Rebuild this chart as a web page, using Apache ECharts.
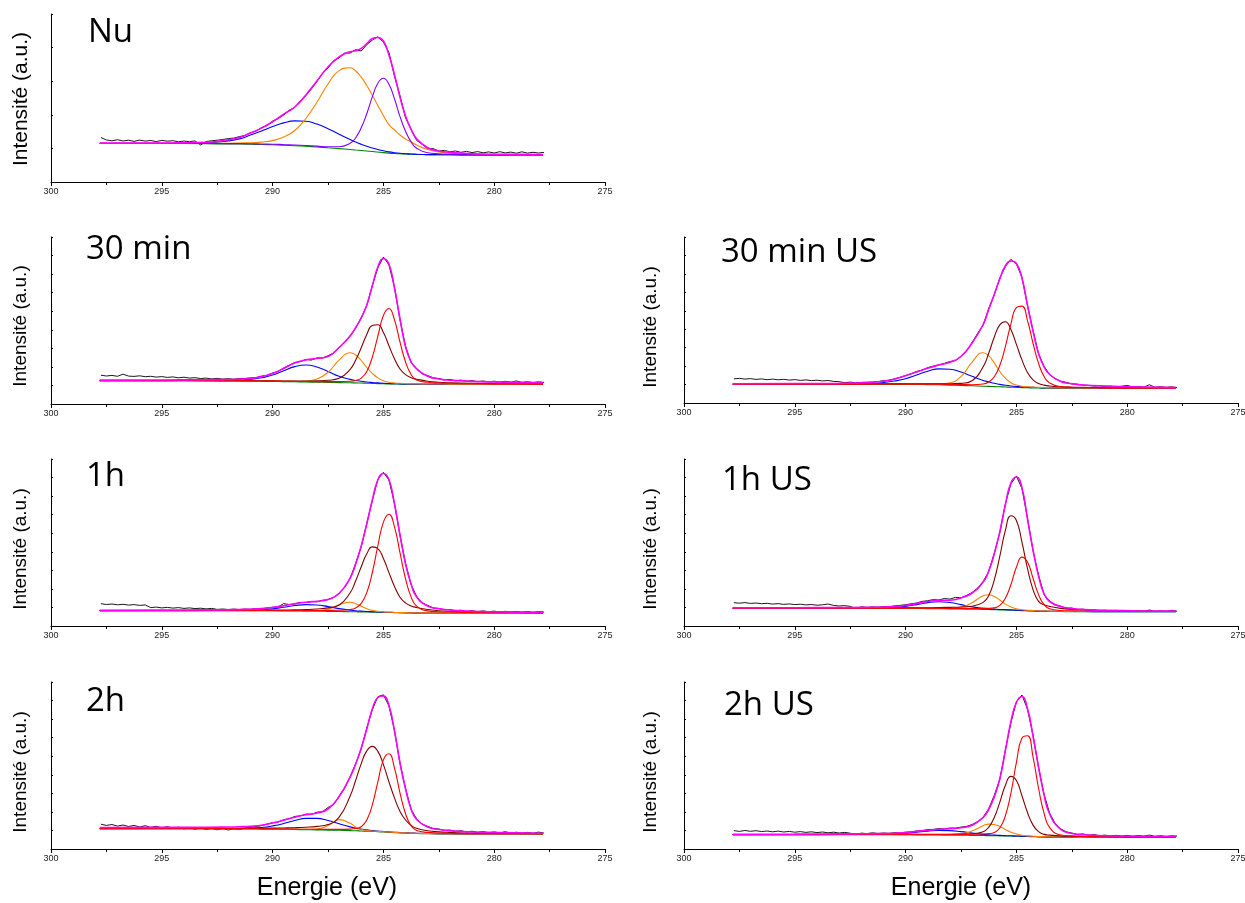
<!DOCTYPE html>
<html><head><meta charset="utf-8">
<script src="https://cdn.jsdelivr.net/npm/echarts@6/dist/echarts.min.js"></script>
<style>html,body{margin:0;padding:0;background:#fff}#c{width:1245px;height:903px}</style>
</head><body><div id="c"></div>
<script>
// ---------- shared energy grids (eV) ----------
const fitEnergy = [297.8, 295, 293, 292, 291.5, 291, 290.5, 290, 289.5, 289,
  288.5, 288, 287.5, 287, 286.5, 286.25, 286, 285.75, 285.5, 285.25,
  285, 284.75, 284.5, 284.25, 284, 283.75, 283.5, 283, 282.5, 282,
  281, 279, 277.8];
const rawEnergy = [297.75, 297.5, 297.25, 297, 296.75, 296.5, 296.25, 296, 295.75, 295.5,
  295.25, 295, 294.75, 294.5, 294.25, 294, 293.75, 293.5, 293.25, 293,
  292.75, 292.5, 292.25, 292, 291.75, 291.5, 291.25, 291, 290.75, 290.5,
  290.25, 290, 289.75, 289.5, 289.25, 289, 288.75, 288.5, 288.25, 288,
  287.75, 287.5, 287.25, 287, 286.75, 286.5, 286.25, 286, 285.75, 285.5,
  285.25, 285, 284.75, 284.5, 284.25, 284, 283.75, 283.5, 283.25, 283,
  282.75, 282.5, 282.25, 282, 281.75, 281.5, 281.25, 281, 280.75, 280.5,
  280.25, 280, 279.75, 279.5, 279.25, 279, 278.75, 278.5, 278.25, 278,
  277.75];
const xTicks = [300, 295, 290, 285, 280, 275];
const panelTitles = ['Nu', '30 min', '30 min US', '1h', '1h US', '2h', '2h US'];

// ---------- Nu ----------
const nuRaw = [44.5, 42.0, 41.2, 42.3, 41.0, 41.8, 40.6, 41.9, 40.9, 41.5,
  40.4, 41.6, 40.8, 41.3, 40.2, 41.0, 40.3, 41.1, 37.0, 40.5,
  41.2, 41.8, 42.5, 43.4, 43.9, 45.4, 46.5, 49.2, 50.8, 54.5,
  56.4, 60.9, 63.4, 67.0, 71.8, 74.5, 81.2, 86.3, 93.0, 100.4,
  108.6, 114.0, 121.3, 124.2, 128.9, 129.0, 132.3, 131.0, 137.4, 141.9,
  145.2, 140.0, 129.5, 105.8, 86.0, 64.1, 52.9, 41.6, 37.8, 33.0,
  33.4, 30.9, 31.6, 30.2, 31.0, 29.7, 30.6, 29.4, 30.4, 29.2,
  30.1, 29.0, 30.3, 29.1, 29.9, 28.8, 30.2, 28.9, 29.7, 29.0,
  29.6];
const nuBaseline = [38.5, 38.5, 38.3, 38.0, 38.0, 37.8, 37.5, 37.2, 36.8, 36.3,
  35.7, 35.0, 34.2, 33.4, 32.5, 32.0, 31.5, 31.0, 30.5, 30.0,
  29.4, 28.9, 28.5, 28.2, 28.0, 27.8, 27.6, 27.4, 27.3, 27.2,
  27.1, 27.0, 27.0];
const nuBlue = [38.5, 38.5, 39.0, 41.1, 43.1, 46.9, 51.0, 55.4, 59.1, 61.1,
  60.7, 57.9, 53.3, 47.8, 42.4, 39.9, 37.7, 35.7, 34.0, 32.5,
  31.2, 30.1, 29.3, 28.7, 28.3, 28.0, 27.7, 27.4, 27.3, 27.2,
  27.1, 27.0, 27.0];
const nuOrange = [38.7, 38.8, 38.8, 38.7, 39.0, 39.3, 39.9, 41.4, 44.9, 51.5,
  63.5, 79.7, 98.0, 111.4, 114.2, 111.0, 104.8, 96.5, 86.8, 76.6,
  66.5, 57.3, 52.0, 47.0, 43.0, 40.0, 37.0, 32.5, 30.0, 29.0,
  27.9, 27.4, 27.3];
const nuPurple = [38.7, 38.7, 38.6, 38.4, 38.4, 38.3, 38.0, 37.8, 37.4, 37.0,
  36.5, 35.9, 35.2, 35.2, 38.7, 44.3, 54.2, 68.2, 85.1, 98.8,
  103.7, 97.7, 83.1, 65.4, 50.7, 40.1, 33.8, 29.2, 28.3, 27.9,
  27.5, 27.2, 27.2];
const nuEnvelope = [38.9, 39.0, 39.8, 42.2, 44.5, 48.9, 53.9, 60.2, 67.8, 75.0,
  87.0, 101.0, 115.0, 125.0, 130.3, 131.2, 133.7, 138.4, 143.5, 144.5,
  141.0, 127.0, 107.4, 84.7, 66.0, 52.5, 43.3, 34.3, 31.0, 29.7,
  28.3, 27.6, 27.5];

// ---------- 30 min ----------
const m30Raw = [28.8, 28.0, 28.6, 27.7, 29.8, 27.9, 27.6, 28.2, 27.3, 27.7,
  26.9, 27.4, 26.6, 27.1, 26.2, 26.8, 25.9, 26.3, 25.5, 25.9,
  25.1, 25.6, 24.9, 25.3, 24.8, 25.5, 25.4, 26.1, 26.4, 27.9,
  28.6, 31.0, 32.4, 36.0, 38.7, 41.6, 42.3, 44.6, 43.9, 46.1,
  46.0, 48.2, 51.0, 56.0, 61.7, 68.4, 75.9, 86.6, 98.4, 118.6,
  136.2, 147.0, 139.2, 116.9, 84.1, 57.8, 41.3, 35.8, 30.2, 28.4,
  26.2, 25.5, 24.1, 24.6, 23.2, 23.9, 22.7, 23.4, 22.3, 23.0,
  22.1, 22.8, 21.9, 22.7, 21.8, 23.1, 21.6, 22.3, 21.5, 22.2,
  21.6];
const m30Baseline = [23.3, 23.3, 23.2, 23.1, 23.0, 22.9, 22.8, 22.6, 22.4, 22.2,
  22.0, 21.8, 21.6, 21.4, 21.2, 21.1, 21.0, 20.8, 20.6, 20.4,
  20.2, 20.1, 20.0, 19.9, 19.85, 19.8, 19.8, 19.75, 19.7, 19.7,
  19.7, 19.7, 19.7];
const m30Blue = [23.4, 23.4, 23.6, 23.6, 23.9, 24.6, 26.2, 28.9, 33.3, 37.4,
  39.0, 37.0, 32.5, 27.7, 24.6, 23.5, 22.7, 22.0, 21.5, 21.1,
  20.7, 20.5, 20.3, 20.2, 20.1, 20.0, 20.0, 19.9, 19.9, 19.8,
  19.8, 19.7, 19.7];
const m30Orange = [23.5, 23.5, 23.4, 23.3, 23.2, 23.1, 23.0, 22.9, 22.8, 22.8,
  23.0, 24.9, 31.6, 43.9, 51.2, 49.0, 43.5, 36.5, 30.6, 26.1,
  23.3, 21.8, 21.0, 20.7, 20.5, 20.3, 20.2, 20.1, 20.0, 19.9,
  19.9, 19.8, 19.8];
const m30Brown = [23.5, 23.5, 23.4, 23.4, 23.3, 23.3, 23.2, 23.1, 23.0, 22.9,
  22.9, 23.1, 23.7, 25.7, 34.7, 44.0, 56.3, 69.6, 78.5, 79.2,
  71.4, 58.3, 45.2, 35.0, 29.4, 26.3, 24.8, 22.8, 21.7, 21.2,
  20.7, 20.2, 20.1];
const m30Red = [23.4, 23.4, 23.4, 23.3, 23.2, 23.1, 23.0, 22.9, 22.75, 22.6,
  22.5, 22.4, 22.4, 22.4, 22.7, 23.5, 25.9, 32.6, 46.9, 67.9,
  88.5, 95.5, 84.1, 61.8, 42.0, 29.5, 24.0, 21.75, 21.0, 20.7,
  20.3, 20.0, 19.9];
const m30Envelope = [23.9, 24.0, 24.3, 24.5, 24.9, 25.6, 27.2, 30.5, 35.5, 41.0,
  44.0, 45.5, 47.5, 56.5, 68.0, 76.5, 86.0, 99.0, 118.0, 137.0,
  145.5, 140.0, 116.0, 85.0, 57.0, 42.0, 35.0, 27.8, 25.0, 23.8,
  22.6, 21.6, 21.3];

// ---------- 30 min US ----------
const m30usRaw = [24.2, 24.6, 23.9, 24.4, 23.6, 24.1, 23.3, 23.9, 23.2, 23.7,
  22.9, 23.4, 22.6, 23.1, 22.4, 22.8, 22.1, 22.5, 21.6, 21.3,
  20.3, 20.9, 20.2, 20.6, 20.7, 21.0, 21.4, 22.3, 22.8, 24.2,
  25.6, 27.5, 29.2, 31.6, 32.9, 35.4, 36.8, 38.2, 39.6, 41.5,
  42.4, 46.9, 52.2, 60.5, 69.6, 78.0, 94.4, 108.1, 124.9, 136.4,
  143.7, 139.0, 125.8, 97.4, 72.6, 49.0, 36.7, 28.2, 24.3, 21.9,
  20.6, 19.1, 18.8, 17.9, 17.6, 16.9, 17.3, 16.5, 16.9, 16.2,
  16.7, 17.6, 16.0, 16.6, 15.8, 18.3, 15.7, 16.4, 15.6, 16.2,
  15.5];
const m30usBaseline = [18.7, 18.7, 18.7, 18.7, 18.7, 18.7, 18.65, 18.6, 18.5, 18.4,
  18.2, 17.9, 17.6, 17.2, 16.8, 16.6, 16.4, 16.2, 16.0, 15.8,
  15.6, 15.4, 15.2, 15.05, 14.95, 14.85, 14.8, 14.7, 14.7, 14.7,
  14.7, 14.7, 14.7];
const m30usBlue = [18.9, 19.0, 19.1, 19.3, 19.6, 20.4, 21.95, 24.3, 28.0, 31.8,
  34.1, 33.8, 31.0, 26.7, 22.5, 21.1, 19.7, 18.6, 17.7, 17.0,
  16.5, 16.2, 15.8, 15.65, 15.45, 15.35, 15.2, 15.1, 15.0, 15.0,
  14.9, 14.8, 14.8];
const m30usOrange = [18.85, 18.9, 18.95, 19.0, 19.0, 19.0, 19.0, 19.0, 19.0, 19.1,
  19.2, 20.2, 26.4, 40.9, 50.3, 47.3, 40.1, 31.5, 24.8, 20.3,
  17.9, 16.7, 16.2, 15.85, 15.65, 15.45, 15.3, 15.1, 15.05, 15.0,
  14.95, 14.9, 14.9];
const m30usBrown = [18.85, 18.9, 19.0, 19.05, 19.1, 19.15, 19.15, 19.2, 19.2, 19.2,
  19.3, 19.3, 19.6, 22.3, 36.3, 49.7, 65.8, 78.1, 81.3, 73.5,
  58.6, 43.1, 30.5, 23.15, 19.55, 17.85, 17.0, 16.2, 15.8, 15.6,
  15.3, 15.0, 14.95];
const m30usRed = [18.8, 18.85, 18.9, 18.9, 18.95, 18.95, 18.95, 18.9, 18.85, 18.8,
  18.7, 18.5, 18.4, 18.3, 19.0, 21.1, 26.2, 37.5, 56.2, 78.8,
  95.4, 96.9, 82.4, 59.75, 39.55, 26.45, 20.0, 16.4, 15.7, 15.4,
  15.15, 14.95, 14.9];
const m30usEnvelope = [19.3, 19.5, 19.6, 20.3, 20.8, 21.8, 23.8, 27.2, 31.0, 34.8,
  38.0, 40.8, 46.5, 60.0, 78.5, 93.5, 108.5, 124.0, 137.0, 142.0,
  139.5, 125.0, 98.0, 72.0, 49.5, 36.0, 28.5, 21.5, 19.3, 18.0,
  17.0, 15.9, 15.4];

// ---------- 1h ----------
const h1Raw = [22.3, 21.5, 22.0, 21.2, 21.7, 20.9, 21.4, 20.6, 21.1, 18.4,
  18.9, 18.1, 18.6, 17.9, 18.4, 17.6, 18.1, 17.4, 17.8, 17.1,
  17.6, 16.6, 17.0, 16.5, 16.9, 16.4, 16.9, 16.7, 17.4, 17.1,
  18.0, 18.5, 19.1, 22.4, 21.4, 22.0, 23.6, 23.5, 24.6, 24.2,
  25.8, 26.3, 28.4, 32.9, 38.6, 47.6, 62.8, 79.4, 102.6, 125.4,
  146.8, 153.7, 146.0, 122.7, 90.4, 62.6, 41.3, 29.6, 23.1, 20.6,
  18.0, 17.6, 16.3, 16.5, 15.2, 15.8, 14.7, 15.3, 14.4, 15.1,
  14.3, 14.9, 14.0, 14.7, 13.9, 14.6, 13.8, 14.5, 13.7, 14.4,
  13.9];
const h1Baseline = [15.3, 15.3, 15.3, 15.3, 15.3, 15.3, 15.25, 15.2, 15.1, 15.0,
  14.9, 14.75, 14.6, 14.45, 14.3, 14.2, 14.1, 14.0, 13.9, 13.75,
  13.6, 13.5, 13.35, 13.25, 13.15, 13.1, 13.05, 13.0, 13.0, 13.0,
  13.0, 13.0, 13.0];
const h1Blue = [15.4, 15.4, 15.45, 15.5, 15.6, 15.8, 16.25, 17.2, 18.8, 20.5,
  21.4, 21.0, 19.4, 17.35, 15.9, 15.3, 14.9, 14.5, 14.3, 14.05,
  13.85, 13.7, 13.5, 13.4, 13.3, 13.2, 13.15, 13.1, 13.1, 13.05,
  13.05, 13.0, 13.0];
const h1Orange = [15.4, 15.4, 15.4, 15.4, 15.4, 15.4, 15.35, 15.35, 15.25, 15.2,
  15.2, 15.3, 16.9, 21.15, 23.7, 22.3, 19.8, 17.3, 15.6, 14.6,
  14.1, 13.85, 13.65, 13.5, 13.35, 13.3, 13.2, 13.15, 13.1, 13.1,
  13.1, 13.05, 13.05];
const h1Brown = [15.45, 15.5, 15.6, 15.7, 15.75, 15.8, 15.85, 15.9, 16.0, 16.1,
  16.4, 16.95, 18.1, 20.95, 33.2, 45.2, 59.3, 72.2, 79.1, 77.35,
  67.6, 53.4, 39.55, 28.75, 23.15, 20.1, 18.55, 16.5, 15.3, 14.7,
  14.0, 13.5, 13.4];
const h1Red = [15.4, 15.45, 15.5, 15.55, 15.6, 15.6, 15.6, 15.6, 15.55, 15.55,
  15.55, 15.55, 15.6, 15.75, 16.5, 18.1, 22.6, 33.4, 53.5, 80.25,
  103.9, 111.8, 99.05, 73.05, 47.15, 29.1, 19.95, 15.1, 14.3, 14.0,
  13.6, 13.35, 13.3];
const h1Envelope = [15.8, 15.9, 16.1, 16.3, 16.5, 16.8, 17.4, 18.6, 20.3, 22.3,
  23.8, 24.6, 26.5, 32.5, 48.0, 62.0, 80.0, 102.0, 126.0, 146.0,
  152.5, 146.5, 122.0, 91.0, 62.0, 42.0, 29.0, 20.0, 17.2, 16.0,
  14.8, 13.9, 13.7];

// ---------- 1h US ----------
const h1usRaw = [23.3, 22.8, 23.4, 22.6, 23.0, 22.3, 22.7, 21.9, 22.4, 21.6,
  22.1, 21.4, 21.8, 21.1, 21.5, 20.8, 21.2, 22.0, 20.6, 20.0,
  20.4, 19.6, 17.4, 19.2, 18.6, 19.1, 18.8, 19.4, 19.3, 20.1,
  20.6, 21.3, 22.2, 23.0, 24.6, 25.3, 26.4, 26.0, 27.5, 26.9,
  28.6, 28.2, 30.6, 33.4, 37.9, 44.6, 54.3, 72.8, 93.2, 121.9,
  142.2, 149.8, 137.6, 107.9, 75.3, 50.8, 31.4, 25.1, 20.8, 19.9,
  17.6, 18.0, 16.3, 16.9, 15.6, 16.2, 15.1, 15.8, 14.9, 15.7,
  14.8, 15.5, 14.7, 15.4, 14.6, 16.0, 14.5, 15.2, 14.5, 15.7,
  14.8];
const h1usBaseline = [17.7, 17.7, 17.7, 17.7, 17.7, 17.7, 17.65, 17.6, 17.5, 17.4,
  17.3, 17.15, 17.0, 16.8, 16.6, 16.45, 16.3, 16.15, 16.0, 15.8,
  15.6, 15.4, 15.2, 15.0, 14.85, 14.7, 14.6, 14.45, 14.4, 14.35,
  14.3, 14.3, 14.3];
const h1usBlue = [17.8, 17.8, 17.85, 17.95, 18.0, 18.2, 18.65, 19.6, 21.4, 23.4,
  24.3, 23.45, 21.4, 19.1, 17.8, 17.25, 16.9, 16.55, 16.35, 16.1,
  15.85, 15.65, 15.4, 15.2, 15.05, 14.85, 14.75, 14.6, 14.5, 14.45,
  14.4, 14.35, 14.35];
const h1usOrange = [17.85, 17.85, 17.9, 17.9, 17.9, 17.9, 17.85, 17.8, 17.75, 17.7,
  17.7, 17.75, 18.8, 23.3, 30.2, 31.25, 29.5, 25.95, 21.9, 19.1,
  17.2, 16.2, 15.8, 15.45, 15.25, 15.05, 14.9, 14.7, 14.6, 14.55,
  14.5, 14.45, 14.45];
const h1usBrown = [17.85, 17.9, 18.0, 18.05, 18.1, 18.15, 18.15, 18.2, 18.25, 18.3,
  18.4, 18.65, 19.0, 19.8, 23.6, 30.25, 45.9, 69.55, 95.3, 110.2,
  105.5, 83.9, 57.5, 36.4, 24.65, 21.2, 19.6, 17.65, 16.6, 15.95,
  15.3, 14.8, 14.7];
const h1usRed = [17.8, 17.8, 17.85, 17.9, 17.9, 17.9, 17.85, 17.9, 17.8, 17.75,
  17.7, 17.6, 17.55, 17.55, 17.6, 17.65, 18.1, 20.55, 27.7, 41.3,
  58.7, 68.9, 63.9, 47.7, 31.35, 21.3, 17.2, 15.55, 15.2, 14.95,
  14.7, 14.55, 14.5];
const h1usEnvelope = [18.2, 18.3, 18.45, 18.6, 18.75, 19.0, 19.5, 20.5, 22.4, 24.5,
  25.6, 25.8, 28.0, 33.0, 44.0, 55.0, 72.0, 94.0, 121.0, 143.0,
  149.0, 138.4, 107.0, 76.0, 50.0, 32.0, 24.5, 19.5, 17.5, 16.5,
  15.6, 15.0, 14.9];

// ---------- 2h ----------
const h2Raw = [24.8, 23.6, 24.5, 22.9, 24.0, 22.5, 23.6, 22.0, 23.3, 21.6,
  22.7, 21.2, 22.4, 20.6, 21.9, 20.1, 21.4, 19.7, 21.0, 19.5,
  20.6, 19.2, 20.4, 19.0, 20.2, 19.4, 21.0, 21.6, 22.5, 23.4,
  24.9, 26.3, 27.0, 29.3, 30.2, 32.6, 33.1, 34.9, 34.6, 36.8,
  37.3, 41.5, 44.2, 52.7, 60.9, 72.6, 85.2, 100.3, 120.8, 139.4,
  152.3, 154.2, 143.0, 118.7, 85.4, 60.6, 39.5, 30.1, 24.8, 22.6,
  20.5, 20.0, 18.6, 19.0, 17.6, 18.3, 17.0, 17.8, 16.6, 17.4,
  16.3, 17.1, 16.1, 17.3, 15.9, 16.8, 15.8, 16.6, 15.7, 16.9,
  15.9];
const h2Baseline = [20.3, 20.3, 20.2, 20.1, 20.05, 20.0, 19.9, 19.8, 19.65, 19.5,
  19.3, 19.1, 18.9, 18.7, 18.4, 18.2, 18.0, 17.8, 17.6, 17.3,
  17.0, 16.7, 16.4, 16.1, 15.9, 15.7, 15.55, 15.3, 15.15, 15.1,
  15.0, 15.0, 15.0];
const h2Blue = [20.4, 20.45, 20.45, 20.45, 20.55, 20.85, 21.5, 23.1, 25.45, 28.5,
  30.6, 30.6, 28.5, 25.2, 22.1, 20.9, 19.9, 19.1, 18.55, 18.0,
  17.55, 17.15, 16.8, 16.45, 16.2, 16.0, 15.8, 15.5, 15.35, 15.25,
  15.1, 15.1, 15.05];
const h2Orange = [20.4, 20.4, 20.35, 20.3, 20.25, 20.2, 20.1, 20.0, 19.85, 19.75,
  19.65, 19.95, 23.4, 29.4, 25.8, 22.1, 19.8, 18.55, 18.05, 17.65,
  17.3, 16.95, 16.65, 16.3, 16.1, 15.85, 15.7, 15.45, 15.3, 15.2,
  15.1, 15.1, 15.1];
const h2Brown = [20.5, 20.6, 20.65, 20.7, 20.75, 20.8, 20.8, 20.9, 21.05, 21.3,
  21.8, 22.6, 24.4, 31.8, 53.1, 68.7, 85.4, 98.1, 102.6, 97.6,
  84.4, 67.2, 51.1, 37.6, 29.0, 23.7, 20.65, 18.3, 17.15, 16.6,
  15.9, 15.5, 15.4];
const h2Red = [20.4, 20.4, 20.35, 20.3, 20.25, 20.25, 20.15, 20.1, 20.0, 19.9,
  19.75, 19.65, 19.6, 19.6, 19.9, 20.5, 22.2, 29.0, 44.2, 67.2,
  89.1, 95.2, 80.9, 55.9, 35.2, 23.2, 18.45, 16.6, 16.05, 15.8,
  15.4, 15.25, 15.2];
const h2Envelope = [21.5, 21.6, 21.7, 22.0, 22.3, 22.8, 23.8, 26.0, 28.8, 31.8,
  34.2, 36.0, 40.0, 52.5, 72.0, 85.0, 101.0, 120.0, 140.0, 151.5,
  153.0, 143.5, 118.0, 86.0, 60.0, 40.0, 29.5, 22.0, 19.5, 18.3,
  17.0, 16.2, 15.8];

// ---------- 2h US ----------
const h2usRaw = [18.4, 17.6, 18.5, 17.7, 18.3, 17.4, 18.0, 17.2, 17.9, 17.0,
  17.6, 16.8, 17.4, 16.6, 17.2, 16.4, 17.0, 16.2, 16.8, 16.0,
  16.6, 15.8, 14.4, 15.9, 15.4, 16.2, 15.5, 16.0, 15.7, 16.3,
  16.0, 16.8, 17.1, 18.0, 18.3, 19.5, 19.6, 20.4, 20.1, 21.0,
  20.9, 21.9, 22.6, 24.5, 27.4, 31.9, 40.2, 53.6, 69.5, 98.8,
  126.2, 147.3, 154.0, 139.8, 113.7, 81.5, 54.6, 35.8, 25.4, 20.1,
  17.2, 16.0, 14.6, 15.1, 13.8, 14.4, 13.3, 13.9, 13.0, 13.7,
  12.9, 13.6, 12.8, 13.5, 12.8, 13.9, 12.7, 13.3, 12.6, 13.2,
  12.9];
const h2usBaseline = [14.3, 14.3, 14.3, 14.3, 14.3, 14.3, 14.25, 14.2, 14.15, 14.05,
  13.95, 13.85, 13.75, 13.6, 13.45, 13.35, 13.25, 13.15, 13.05, 12.95,
  12.8, 12.65, 12.5, 12.3, 12.15, 12.0, 11.9, 11.8, 11.75, 11.7,
  11.7, 11.7, 11.7];
const h2usBlue = [14.35, 14.4, 14.45, 14.5, 14.55, 14.65, 14.95, 15.6, 16.75, 17.85,
  18.55, 18.35, 17.35, 15.9, 14.65, 14.25, 13.85, 13.6, 13.4, 13.25,
  13.05, 12.85, 12.7, 12.5, 12.35, 12.15, 12.05, 11.95, 11.9, 11.8,
  11.8, 11.8, 11.75];
const h2usOrange = [14.45, 14.45, 14.5, 14.5, 14.5, 14.5, 14.45, 14.4, 14.4, 14.35,
  14.3, 14.35, 14.95, 17.9, 23.35, 24.85, 24.55, 22.55, 19.55, 16.75,
  15.0, 13.75, 13.15, 12.75, 12.55, 12.35, 12.2, 12.05, 11.95, 11.9,
  11.85, 11.85, 11.85];
const h2usBrown = [14.45, 14.5, 14.55, 14.6, 14.6, 14.65, 14.65, 14.65, 14.65, 14.65,
  14.65, 14.75, 14.95, 15.2, 17.25, 21.65, 31.45, 46.65, 63.55, 72.65,
  68.4, 53.25, 36.5, 23.9, 17.35, 14.6, 13.9, 13.1, 12.7, 12.5,
  12.2, 12.0, 11.95];
const h2usRed = [14.4, 14.45, 14.5, 14.55, 14.6, 14.6, 14.6, 14.6, 14.6, 14.55,
  14.55, 14.55, 14.6, 14.7, 15.05, 15.35, 16.55, 21.05, 33.05, 55.65,
  86.7, 110.95, 113.3, 92.1, 60.75, 35.7, 21.4, 14.0, 13.15, 12.7,
  12.3, 12.05, 12.0];
const h2usEnvelope = [14.8, 14.9, 15.1, 15.2, 15.3, 15.45, 15.8, 16.4, 17.6, 18.8,
  19.7, 20.3, 21.2, 23.8, 31.5, 39.5, 52.0, 70.0, 98.0, 127.0,
  146.5, 152.5, 140.5, 113.0, 82.0, 54.0, 35.0, 19.5, 15.5, 14.2,
  13.2, 12.6, 12.4];

// ---------- layout & styles ----------
const C = {raw:'#000000', env:'#ff00ff', base:'#008000', blue:'#0000ff',
  orange:'#ff8000', brown:'#800000', red:'#ff0000', purple:'#8000ff'};
const L = 51, R = 684, W = 554;
const panels = [
  {title:panelTitles[0], raw:nuRaw, base:nuBaseline, env:nuEnvelope,
    comps:[[nuBlue,C.blue],[nuOrange,C.orange],[nuPurple,C.purple]],
    left:L, top:14, h:168, yMax:168, ySplit:5, tx:88, ty:38, lx:21, ly:99, lfs:21},
  {title:panelTitles[1], raw:m30Raw, base:m30Baseline, env:m30Envelope,
    comps:[[m30Blue,C.blue],[m30Orange,C.orange],[m30Brown,C.brown],[m30Red,C.red]],
    left:L, top:237, h:167, yMax:167, ySplit:9, tx:86, ty:255, lx:21, ly:326, lfs:19},
  {title:panelTitles[2], raw:m30usRaw, base:m30usBaseline, env:m30usEnvelope,
    comps:[[m30usBlue,C.blue],[m30usOrange,C.orange],[m30usBrown,C.brown],[m30usRed,C.red]],
    left:R, top:237, h:166, yMax:166, ySplit:9, tx:721, ty:258, lx:651, ly:327, lfs:19},
  {title:panelTitles[3], raw:h1Raw, base:h1Baseline, env:h1Envelope,
    comps:[[h1Blue,C.blue],[h1Orange,C.orange],[h1Brown,C.brown],[h1Red,C.red]],
    left:L, top:459, h:167, yMax:167, ySplit:9, tx:86, ty:482, lx:21, ly:549, lfs:19},
  {title:panelTitles[4], raw:h1usRaw, base:h1usBaseline, env:h1usEnvelope,
    comps:[[h1usBlue,C.blue],[h1usOrange,C.orange],[h1usBrown,C.brown],[h1usRed,C.red]],
    left:R, top:459, h:167, yMax:167, ySplit:9, tx:722, ty:486, lx:651, ly:549, lfs:19},
  {title:panelTitles[5], raw:h2Raw, base:h2Baseline, env:h2Envelope,
    comps:[[h2Blue,C.blue],[h2Orange,C.orange],[h2Brown,C.brown],[h2Red,C.red]],
    left:L, top:682, h:167, yMax:167, ySplit:9, tx:86, ty:707, lx:21, ly:772, lfs:19},
  {title:panelTitles[6], raw:h2usRaw, base:h2usBaseline, env:h2usEnvelope,
    comps:[[h2usBlue,C.blue],[h2usOrange,C.orange],[h2usBrown,C.brown],[h2usRed,C.red]],
    left:R, top:682, h:167, yMax:167, ySplit:9, tx:724, ty:711, lx:651, ly:772, lfs:19}
];

function zip(xs, ys){ return xs.map((x,i)=>[x, ys[i]]); }

const grid = [], xAxis = [], yAxis = [], series = [], graphic = [];
panels.forEach((p, i) => {
  grid.push({left:p.left, top:p.top, width:W, height:p.h, containLabel:false, outerBoundsMode:'none'});
  xAxis.push({
    type:'value', gridIndex:i, min:xTicks[xTicks.length-1], max:xTicks[0], interval:5, inverse:true,
    axisLine:{show:true, onZero:false, lineStyle:{color:'#000', width:1}},
    axisTick:{show:true, inside:false, length:4, lineStyle:{color:'#000'}},
    minorTick:{show:true, splitNumber:2, length:3, lineStyle:{color:'#000'}},
    axisLabel:{show:true, margin:5, fontSize:9, color:'#222', fontFamily:'Liberation Sans, Arial, sans-serif'},
    splitLine:{show:false}
  });
  yAxis.push({
    type:'value', gridIndex:i, min:0, max:p.yMax, interval:p.yMax/p.ySplit,
    axisLine:{show:true, lineStyle:{color:'#000', width:1}},
    axisTick:{show:true, inside:true, length:2, lineStyle:{color:'#000'}},
    axisLabel:{show:false}, splitLine:{show:false}
  });
  const common = {type:'line', xAxisIndex:i, yAxisIndex:i, showSymbol:false, symbol:'none', silent:true, animation:false};
  series.push(Object.assign({}, common, {name:p.title+' data', data:zip(rawEnergy, p.raw), smooth:false,
    lineStyle:{color:C.raw, width:0.9}, z:2}));
  series.push(Object.assign({}, common, {name:p.title+' fond', data:zip(fitEnergy, p.base), smooth:0.5,
    lineStyle:{color:C.base, width:1.1}, z:3}));
  p.comps.forEach((c, k) => {
    series.push(Object.assign({}, common, {name:p.title+' c'+k, data:zip(fitEnergy, c[0]), smooth:0.5,
      lineStyle:{color:c[1], width:1.1}, z:4}));
  });
  series.push(Object.assign({}, common, {name:p.title+' enveloppe', data:zip(fitEnergy, p.env), smooth:0.5,
    lineStyle:{color:C.env, width:1.6}, z:5}));

  graphic.push({type:'text', left:p.tx, top:p.ty - 22, z:10,
    style:{text:p.title, font:'33px "Open Sans", "Noto Sans", sans-serif', fill:'#000'}});
  graphic.push({type:'text', x:p.lx, y:p.ly, rotation:Math.PI/2, z:10,
    style:{text:'Intensité (a.u.)', font:p.lfs+'px "Liberation Sans", Arial, sans-serif', fill:'#000',
      align:'center', verticalAlign:'middle'}});
});
graphic.push({type:'text', x:327, y:888, z:10,
  style:{text:'Energie (eV)', font:'25px "Liberation Sans", Arial, sans-serif', fill:'#000', align:'center', verticalAlign:'middle'}});
graphic.push({type:'text', x:961, y:888, z:10,
  style:{text:'Energie (eV)', font:'25px "Liberation Sans", Arial, sans-serif', fill:'#000', align:'center', verticalAlign:'middle'}});

const chart = echarts.init(document.getElementById('c'), null, {renderer:'canvas', width:1245, height:903});
chart.setOption({backgroundColor:'#fff', animation:false, grid, xAxis, yAxis, series, graphic});
</script>
</body></html>
